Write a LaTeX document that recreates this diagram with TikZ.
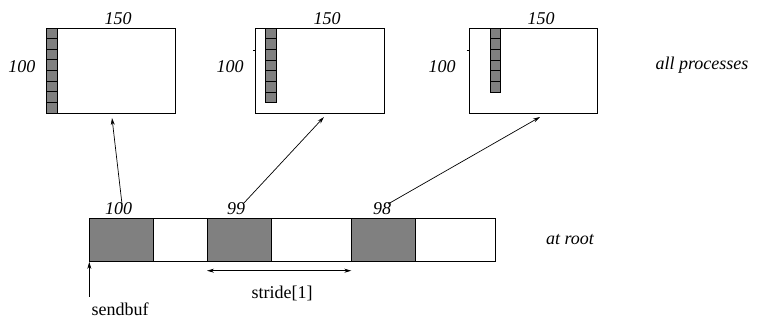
\documentclass[tikz,border=0pt]{standalone}
\usepackage{fontspec}
\setmainfont{Liberation Serif}
\usetikzlibrary{arrows.meta}
\definecolor{cellgray}{RGB}{128,128,128}
\begin{document}
\begin{tikzpicture}[x=1pt,y=-1pt, line width=0.9pt,
  lbl/.style={font=\rmfamily\fontsize{18}{20}\selectfont\itshape, inner sep=0pt},
  txt/.style={font=\rmfamily\fontsize{18}{20}\selectfont, inner sep=0pt},
  arr/.style={-{Stealth[length=7pt,width=4pt]}, line width=0.7pt},
  darr/.style={{Stealth[length=7pt,width=4pt]}-{Stealth[length=7pt,width=4pt]}, line width=0.7pt},
  cell/.style={draw, fill=cellgray, line width=0.8pt},
  procbox/.style={draw, anchor=north west, inner sep=0pt, minimum width=128.5pt, minimum height=85pt}]
\useasboundingbox (0,0) rectangle (758,320);

% process boxes
\node[procbox] (p1) at (46.5,28) {};
\node[procbox] (p2) at (255,28) {};
\node[procbox] (p3) at (468.5,28) {};
\foreach \i in {0,...,7} \draw[cell] (46.5,{28+\i*10.625}) rectangle ++(11,10.625);
\foreach \i in {0,...,6} \draw[cell] (265,{28+\i*10.67}) rectangle ++(11.5,10.67);
\foreach \i in {0,...,5} \draw[cell] (490,{28+\i*10.7}) rectangle ++(10.7,10.7);
\draw[line width=0.8pt] (253,50) -- (255,50);
\draw[line width=0.8pt] (466.5,50) -- (468.5,50);

% labels of process boxes
\node[lbl] (w1) at (118,18.5) {150};
\node[lbl] (w2) at (327,18.5) {150};
\node[lbl] (w3) at (541,18.5) {150};
\node[lbl] (h1) at (22,67) {100};
\node[lbl] (h2) at (230,67) {100};
\node[lbl] (h3) at (442,67) {100};
\node[lbl] (allp) at (702,65) {all processes};

% root buffer
\node[draw, anchor=north west, inner sep=0pt, minimum width=405.7pt, minimum height=42.7pt] (strip) at (89.3,218.3) {};
\draw[cell, line width=0.9pt] (89.3,218.3) rectangle (153.3,261);
\draw[cell, line width=0.9pt] (207,218.3) rectangle (271.3,261);
\draw[cell, line width=0.9pt] (351.3,218.3) rectangle (415.7,261);
\node[lbl] (c1) at (118.5,208.5) {100};
\node[lbl] (c2) at (236,208.5) {99};
\node[lbl] (c3) at (382,208.5) {98};
\node[lbl] (root) at (570,240) {at root};

% connectors
\coordinate (a1s) at (122,204);
\coordinate (a1e) at (112,118);
\coordinate (a2s) at (243,204);
\coordinate (a2e) at (324,117);
\coordinate (a3s) at (388,204);
\coordinate (a3e) at (540,117);
\draw[arr] (a1s) -- (a1e);
\draw[arr] (a2s) -- (a2e);
\draw[arr] (a3s) -- (a3e);

\coordinate (sl) at (207,270.7);
\coordinate (sr) at (351.3,270.7);
\draw[darr] (sl) -- (sr);
\node[txt] (stride) at (282,293) {stride[1]};

\coordinate (sb) at (89.3,297);
\draw[arr] (sb) -- (strip.south west);
\node[txt] (sendbuf) at (120,309) {sendbuf};
\end{tikzpicture}
\end{document}
